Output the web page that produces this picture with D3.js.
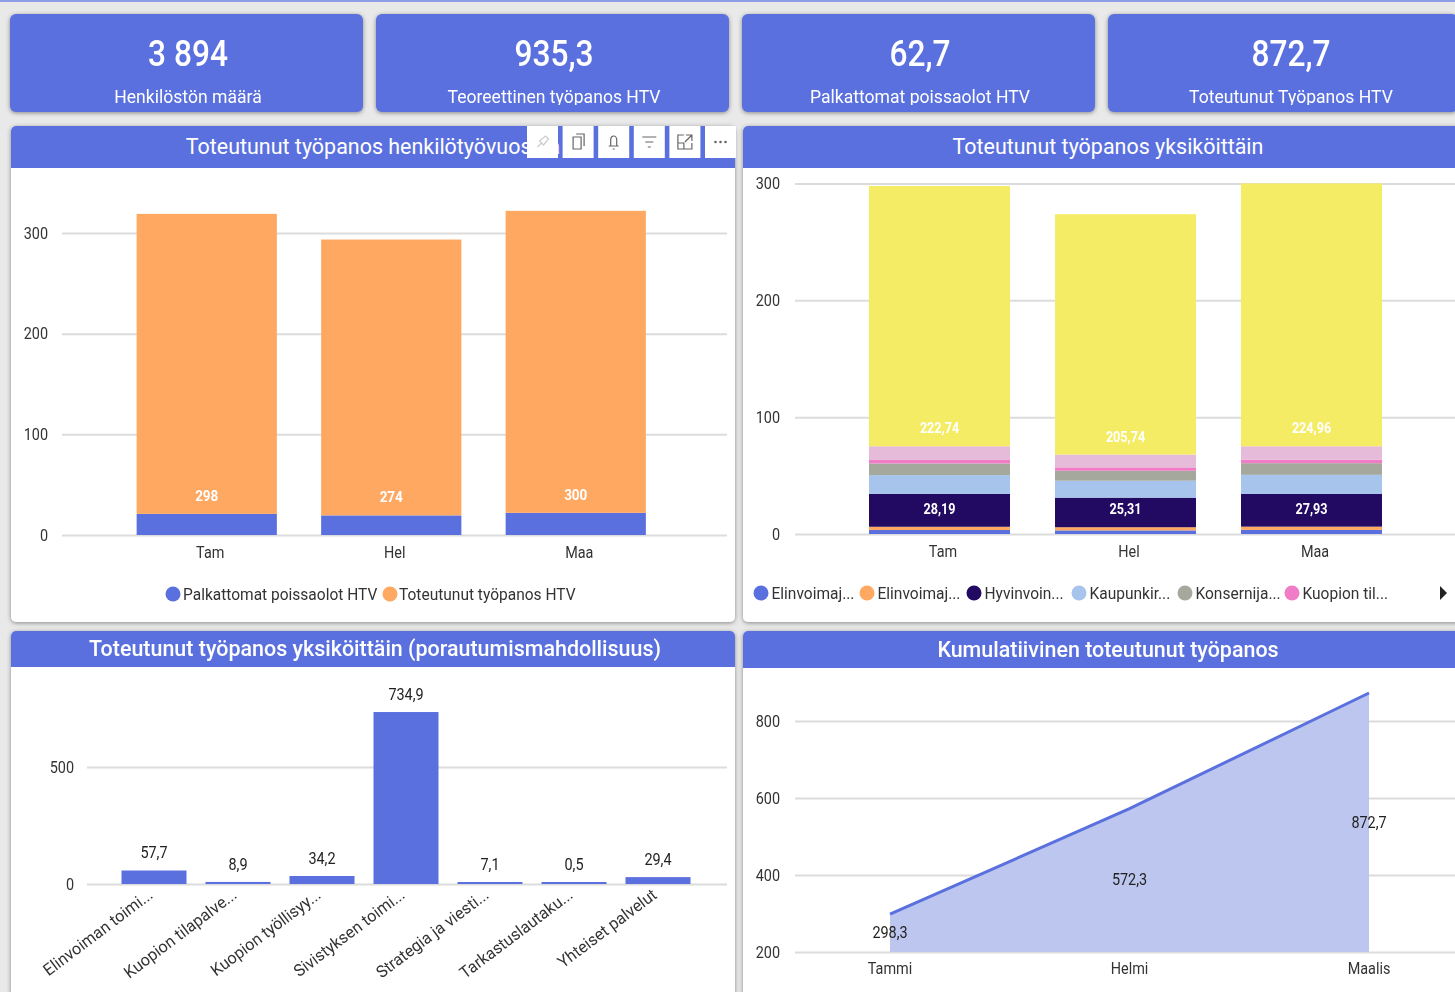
<!DOCTYPE html>
<html>
<head>
<meta charset="utf-8">
<script src="https://cdnjs.cloudflare.com/ajax/libs/d3/7.8.5/d3.min.js"></script>
<style>
html, body { margin: 0; padding: 0; background: #e9e9e9; overflow: hidden; }
svg { display: block; filter: blur(0.4px); }
text { font-family: Roboto, sans-serif; }
.title { font-size: 22px; fill: #fff; text-anchor: middle; }
.axis text { font-size: 16px; fill: #333; }
.axis line { stroke: #dcdcdc; stroke-width: 2px; }
.axis path { display: none; }
.legend { font-size: 16.5px; fill: #333; }
.lbl { font-size: 15px; font-weight: bold; fill: #fff; text-anchor: middle; }
.dark { font-size: 16px; font-weight: normal; fill: #222; text-anchor: middle; }
</style>
</head>
<body>
<div id="chart"></div>
<script>
// KPI cards
const kpiValues = ["3 894", "935,3", "62,7", "872,7"];
const kpiLabels = ["Henkilöstön määrä", "Teoreettinen työpanos HTV", "Palkattomat poissaolot HTV", "Toteutunut Työpanos HTV"];

// Months used by the two stacked charts
const months = ["Tam", "Hel", "Maa"];

// Top left chart
const palkattomat = [21, 19.5, 22];
const toteutunut = [298, 274, 300];
const htvNames = ["Palkattomat poissaolot HTV", "Toteutunut työpanos HTV"];

// Top right chart, one array per unit, bottom to top
const unitNames = ["Elinvoimaj...", "Elinvoimaj...", "Hyvinvoin...", "Kaupunkir...", "Konsernija...", "Kuopion til...", "Muu", "Sivistys"];
const elinvoima1 = [3.4, 3.1, 3.5];
const elinvoima2 = [2.8, 2.7, 2.8];
const hyvinvointi = [28.19, 25.31, 27.93];
const kaupunki = [16, 14.5, 16.4];
const konserni = [10, 8.5, 10];
const kuopionTil = [3, 2.9, 3];
const muu = [11.7, 11, 11.5];
const sivistys = [222.74, 205.74, 224.96];
const unitValues = [elinvoima1, elinvoima2, hyvinvointi, kaupunki, konserni, kuopionTil, muu, sivistys];
const unitColors = ["#5a70de", "#ffa862", "#220a63", "#a6c4ec", "#a5a89c", "#f07cc8", "#e6bbd9", "#f5ec66"];

// Bottom left chart
const drillNames = ["Elinvoiman toimi...", "Kuopion tilapalve...", "Kuopion työllisyy...", "Sivistyksen toimi...", "Strategia ja viesti...", "Tarkastuslautaku...", "Yhteiset palvelut"];
const drillValues = [57.7, 8.9, 34.2, 734.9, 7.1, 0.5, 29.4];

// Bottom right chart
const cumMonths = ["Tammi", "Helmi", "Maalis"];
const cumValues = [298.3, 572.3, 872.7];

const blue = "#5a70de";
const fi = v => String(v).replace(".", ",");

const svg = d3.select("#chart").append("svg").attr("width", 1455).attr("height", 992);
const defs = svg.append("defs");
const shadow = defs.append("filter").attr("id", "shadow").attr("x", "-5%").attr("y", "-5%").attr("width", "110%").attr("height", "110%");
shadow.append("feDropShadow").attr("dx", 0).attr("dy", 1).attr("stdDeviation", 2).attr("flood-color", "#666").attr("flood-opacity", 0.75);

svg.append("rect").attr("width", 1455).attr("height", 2).attr("fill", "#8d9de6");

// Cards
const cards = [[10, 353], [376, 353], [742, 353], [1108, 350]];
cards.forEach(function (c, i) {
    defs.append("clipPath").attr("id", "card" + i).append("rect")
        .attr("x", c[0]).attr("y", 14).attr("width", c[1]).attr("height", 91);
    svg.append("rect").attr("x", c[0]).attr("y", 14).attr("width", c[1]).attr("height", 98)
        .attr("rx", 6).attr("fill", blue).attr("filter", "url(#shadow)");
    const cx = [188, 554, 920, 1291][i];
    svg.append("text").attr("class", "kpiv").attr("x", cx).attr("y", 66).attr("text-anchor", "middle")
        .attr("fill", "#fff").style("font-size", "36px").style("font-weight", "500").text(kpiValues[i]);
    svg.append("text").attr("class", "kpil").attr("x", cx).attr("y", 103).attr("text-anchor", "middle")
        .attr("clip-path", "url(#card" + i + ")")
        .attr("fill", "#fff").style("font-size", "19px").text(kpiLabels[i]);
});

// Panel with a blue header
function panel(x, y, w, h, headH, title, titleX, weight) {
    svg.append("rect").attr("x", x).attr("y", y).attr("width", w).attr("height", h)
        .attr("rx", 5).attr("fill", "#fff").attr("filter", "url(#shadow)");
    svg.append("rect").attr("x", x).attr("y", y).attr("width", w).attr("height", headH)
        .attr("rx", 5).attr("fill", blue);
    svg.append("rect").attr("x", x).attr("y", y + 6).attr("width", w).attr("height", headH - 6)
        .attr("fill", blue);
    svg.append("text").attr("class", "title").attr("x", titleX).attr("y", y + headH / 2 + 7)
        .style("font-weight", weight).text(title);
}
panel(11, 126, 724, 496, 42, "Toteutunut työpanos henkilötyövuosina", 373, 400);
panel(743, 126, 720, 496, 42, "Toteutunut työpanos yksiköittäin", 1108, 400);
panel(11, 631, 724, 370, 36, "Toteutunut työpanos yksiköittäin (porautumismahdollisuus)", 375, 500);
panel(743, 631, 720, 370, 37, "Kumulatiivinen toteutunut työpanos", 1108, 500);

// Y axis with gridlines, left is where the tick labels end
function yAxis(y, left, x0, x1, ticks) {
    const g = svg.append("g").attr("class", "axis").attr("transform", "translate(" + x0 + ",0)")
        .call(d3.axisLeft(y).tickValues(ticks).tickSize(x0 - x1).tickPadding(x0 - left));
    return g;
}

// X axis labels only
function xLabels(x, yPos, labels, offset) {
    svg.append("g").selectAll("text").data(labels).enter().append("text")
        .attr("x", function (d, i) { return x(i) + x.bandwidth() / 2 + offset; })
        .attr("y", yPos).attr("text-anchor", "middle")
        .attr("fill", "#333").style("font-size", "16px").text(function (d) { return d; });
}

// ---- Top left
const x1 = d3.scaleBand().domain(d3.range(3)).range([114.5, 668]).paddingInner(0.24).paddingOuter(0.12);
const y1 = d3.scaleLinear().domain([0, 300]).range([535, 233]);
yAxis(y1, 48, 62, 727, [0, 100, 200, 300]);
months.forEach(function (m, i) {
    svg.append("rect").attr("x", x1(i)).attr("width", x1.bandwidth())
        .attr("y", y1(palkattomat[i])).attr("height", y1(0) - y1(palkattomat[i])).attr("fill", blue);
    svg.append("rect").attr("x", x1(i)).attr("width", x1.bandwidth())
        .attr("y", y1(palkattomat[i] + toteutunut[i]))
        .attr("height", y1(palkattomat[i]) - y1(palkattomat[i] + toteutunut[i])).attr("fill", "#ffa862");
    svg.append("text").attr("class", "lbl").attr("x", x1(i) + x1.bandwidth() / 2)
        .attr("y", y1(palkattomat[i]) - 13).text(toteutunut[i]);
});
xLabels(x1, 558, months, 3.5);
[[173, 183, blue], [390, 399, "#ffa862"]].forEach(function (l, i) {
    svg.append("circle").attr("cx", l[0]).attr("cy", 594).attr("r", 7.5).attr("fill", l[2]);
    svg.append("text").attr("class", "legend").attr("x", l[1]).attr("y", 600).text(htvNames[i]);
});

// Hover toolbar of the top left visual
const icons = [
    "M-5 5L-1 1M-3 -1L3 -6L6 -3L1 3Z",
    "M-5 -5H3V7H-5ZM-2 -8H6V4",
    "M-5 4H5M-3 4V-2A3 4 0 0 1 3 -2V4M-1 7H1",
    "M-7 -5H7M-4 0H4M-1.5 5H1.5",
    "M-1 -7H-7V7H7V1M1 -7H7V-1M7 -7L0 0M-7 1H-1V7",
    ""
];
icons.forEach(function (d, i) {
    const bx = 527 + i * 35.6;
    svg.append("rect").attr("x", bx).attr("y", 126).attr("width", 31).attr("height", 32).attr("fill", "#fff");
    const g = svg.append("g").attr("transform", "translate(" + (bx + 15.5) + ",142)");
    if (i < 5) {
        g.append("path").attr("d", d).attr("fill", "none").attr("stroke", i === 0 ? "#ccc" : "#666").attr("stroke-width", 1.2);
    } else {
        g.selectAll("circle").data([-5, 0, 5]).enter().append("circle")
            .attr("cx", function (v) { return v; }).attr("r", 1.3).attr("fill", "#666");
    }
});

// ---- Top right
const x2 = d3.scaleBand().domain(d3.range(3)).range([846.5, 1404.5]).paddingInner(0.242).paddingOuter(0.121);
const y2 = d3.scaleLinear().domain([0, 300]).range([534, 183.5]);
yAxis(y2, 780, 795, 1455, [0, 100, 200, 300]);
const stack = d3.stack().keys(d3.range(8)).value(function (d, k) { return unitValues[k][d]; })(d3.range(3));
stack.forEach(function (layer, k) {
    svg.append("g").selectAll("rect").data(layer).enter().append("rect")
        .attr("x", function (d) { return x2(d.data); })
        .attr("width", x2.bandwidth())
        .attr("y", function (d) { return y2(d[1]); })
        .attr("height", function (d) { return y2(d[0]) - y2(d[1]); })
        .attr("fill", unitColors[k]);
});
[2, 7].forEach(function (k) {
    svg.append("g").selectAll("text").data(stack[k]).enter().append("text")
        .attr("class", "lbl")
        .attr("x", function (d) { return x2(d.data) + x2.bandwidth() / 2; })
        .attr("y", function (d) { return k === 2 ? 514 : y2(d[0]) - 13; })
        .style("font-size", "14px")
        .text(function (d, i) { return fi(unitValues[k][i]); });
});
xLabels(x2, 557, months, 3.5);
unitNames.slice(0, 6).forEach(function (n, i) {
    const cx = [761, 867, 974, 1079, 1185, 1292][i];
    svg.append("circle").attr("cx", cx).attr("cy", 593).attr("r", 7.5).attr("fill", unitColors[i]);
    svg.append("text").attr("class", "legend").attr("x", cx + 10.5).attr("y", 599).text(n);
});
svg.append("path").attr("d", "M1440 586L1447 593L1440 600Z").attr("fill", "#222");

// ---- Bottom left
const x3 = d3.scaleBand().domain(d3.range(7)).range([112, 700]).paddingInner(0.226).paddingOuter(0.113);
const y3 = d3.scaleLinear().domain([0, 500]).range([884, 767]);
yAxis(y3, 74, 87, 727, [0, 500]);
svg.append("g").selectAll("rect").data(drillValues).enter().append("rect")
    .attr("x", function (d, i) { return x3(i); })
    .attr("width", x3.bandwidth())
    .attr("y", function (d) { return Math.min(y3(d), 882); })
    .attr("height", function (d) { return Math.max(y3(0) - y3(d), 2); })
    .attr("fill", blue);
svg.append("g").selectAll("text").data(drillValues).enter().append("text")
    .attr("class", "dark")
    .attr("x", function (d, i) { return x3(i) + x3.bandwidth() / 2; })
    .attr("y", function (d) { return Math.min(y3(d), 882) - 12; })
    .text(fi);
svg.append("g").selectAll("text").data(drillNames).enter().append("text")
    .attr("class", "rot")
    .attr("text-anchor", "end").attr("fill", "#333").style("font-size", "16.5px")
    .attr("transform", function (d, i) {
        return "translate(" + (x3(i) + x3.bandwidth() / 2) + ",897) rotate(-37)";
    })
    .text(function (d) { return d; });

// ---- Bottom right
const x4 = d3.scalePoint().domain(d3.range(3)).range([890, 1369]);
const y4 = d3.scaleLinear().domain([200, 800]).range([952, 721]);
yAxis(y4, 780, 795, 1455, [200, 400, 600, 800]);
const area = d3.area().x(function (d, i) { return x4(i); }).y0(y4(200)).y1(function (d) { return y4(d); });
const line = d3.line().x(function (d, i) { return x4(i); }).y(function (d) { return y4(d); });
svg.append("path").attr("d", area(cumValues)).attr("fill", "#bcc6ef");
svg.append("path").attr("d", line(cumValues)).attr("fill", "none").attr("stroke", blue).attr("stroke-width", 3);
svg.append("g").selectAll("text").data(cumValues).enter().append("text")
    .attr("class", "dark")
    .attr("x", function (d, i) { return x4(i); })
    .attr("y", function (d) { return (y4(d) + y4(200)) / 2 + 5; })
    .text(fi);
svg.append("g").selectAll("text").data(cumMonths).enter().append("text")
    .attr("x", function (d, i) { return x4(i); })
    .attr("y", 974).attr("text-anchor", "middle").attr("fill", "#333").style("font-size", "16px")
    .text(function (d) { return d; });

// The original font is narrower than Roboto, so squeeze every text a bit.
const squeeze = { title: 0.975, kpiv: 0.88, kpil: 0.925, legend: 0.94, rot: 0.98 };
svg.selectAll("text").each(function () {
    const f = squeeze[this.getAttribute("class")] || 0.9;
    d3.select(this).attr("textLength", this.getComputedTextLength() * f).attr("lengthAdjust", "spacingAndGlyphs");
});
</script>
</body>
</html>
